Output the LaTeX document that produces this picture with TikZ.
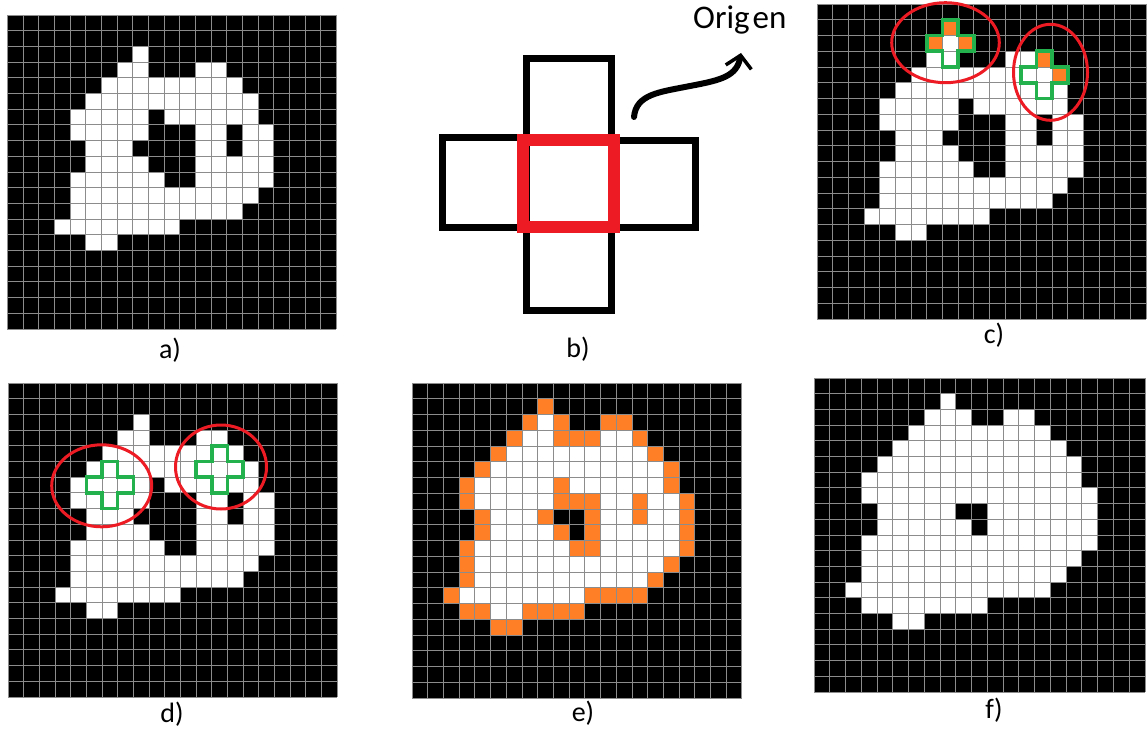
\documentclass[tikz,border=0pt]{standalone}
\usepackage{fontspec}
\setmainfont{Carlito}
\usetikzlibrary{arrows.meta}
\definecolor{pixgray}{HTML}{8C8C8C}
\definecolor{pixorange}{HTML}{FF7F27}
\definecolor{crossgreen}{HTML}{22B14C}
\definecolor{ringred}{HTML}{ED1C24}
\tikzset{
  gridline/.style={draw=pixgray,line width=0.9pt},
  crossline/.style={draw=crossgreen,line width=3.6pt,line join=miter},
  ring/.style={draw=ringred,line width=3pt},
  cellbox/.style={draw=black,line width=7pt},
  origbox/.style={draw=ringred,line width=12pt},
  tag/.style={font=\fontsize{28}{30}\selectfont,inner sep=0pt},
  squiggle/.style={line width=6pt,line cap=round,
                   -{Straight Barb[length=12pt,width=26pt,line width=3.5pt]}}
}
% white runs: row/first column/last column
\newcommand{\blobA}{2/8/8,3/7/8,3/12/13,4/6/14,5/5/15,6/4/8,6/10/15,7/4/8,7/12/13,7/15/16,
  8/5/7,8/12/13,8/15/16,9/5/8,9/12/16,10/4/9,10/12/16,11/4/15,12/4/14,13/3/10,14/5/6}
\newcommand{\blobF}{1/8/8,2/7/9,2/12/13,3/6/14,4/5/15,5/4/16,6/3/16,7/3/17,8/4/8,8/11/17,
  9/4/9,9/11/17,10/3/17,11/3/16,12/3/15,13/2/14,14/3/10,15/5/6}
\newcommand{\pixbase}{\fill[black] (0,0) rectangle (21,20);}
\newcommand{\pixlines}{%
  \foreach \i in {0,...,21} \draw[gridline] (\i,0) -- (\i,20);
  \foreach \j in {0,...,20} \draw[gridline] (0,\j) -- (21,\j);}
\newcommand{\greencross}[2]{%
  \draw[crossline] (#1,#2-1) -- ++(1,0) -- ++(0,1) -- ++(1,0) -- ++(0,1) -- ++(-1,0)
    -- ++(0,1) -- ++(-1,0) -- ++(0,-1) -- ++(-1,0) -- ++(0,-1) -- ++(1,0) -- cycle;}

\begin{document}
\begin{tikzpicture}[x=1pt,y=-1pt]
  \useasboundingbox (0,0) rectangle (1147,738);

  % a)
  \begin{scope}[shift={(7.3,15)},x=15.67pt,y=-15.7pt]
    \pixbase
    \foreach \pr/\pa/\pb in \blobA {\fill[white] (\pa,\pr) rectangle (\pb+1,\pr+1);}
    \pixlines
  \end{scope}

  % b)
  \draw[cellbox] (526,58.5) rectangle (611,140);
  \draw[cellbox] (442,137.5) rectangle (526,227.5);
  \draw[cellbox] (611,141) rectangle (695,227.5);
  \draw[cellbox] (526,227.5) rectangle (611,310.5);
  \draw[origbox] (523,140) rectangle (614,227);
  \node[tag,font=\fontsize{33}{35}\selectfont,anchor=west] (origen) at (693,20) {Orig\kern3pt en};
  \coordinate (tail) at (634,117);
  \coordinate (bend) at (690,86);
  \coordinate (tip) at (741,53);
  \draw[squiggle] (tail) .. controls (636,94) and (660,92) .. (bend)
    .. controls (722,80) and (737,76) .. (tip);

  % c)
  \begin{scope}[shift={(817,4)},x=15.67pt,y=-15.75pt]
    \pixbase
    \foreach \pr/\pa/\pb in \blobA {\fill[white] (\pa,\pr) rectangle (\pb+1,\pr+1);}
    \foreach \pa/\pr in {8/1,7/2,9/2,14/3,15/4} {\fill[pixorange] (\pa,\pr) rectangle ++(1,1);}
    \pixlines
    \greencross{8}{2}
    \greencross{14}{4}
  \end{scope}
  \draw[ring] (945.5,42.7) ellipse [x radius=53.8,y radius=40];
  \draw[ring] (1050.5,72.3) ellipse [x radius=37,y radius=48];

  % d)
  \begin{scope}[shift={(8,383)},x=15.67pt,y=-15.7pt]
    \pixbase
    \foreach \pr/\pa/\pb in \blobA {\fill[white] (\pa,\pr) rectangle (\pb+1,\pr+1);}
    \pixlines
    \greencross{6}{6}
    \greencross{13}{5}
  \end{scope}
  \draw[ring] (101.7,485.8) ellipse [x radius=50,y radius=41];
  \draw[ring] (221,467) ellipse [x radius=45.5,y radius=42];

  % e)
  \begin{scope}[shift={(412,383)},x=15.71pt,y=-15.75pt]
    \pixbase
    \foreach \pr/\pa/\pb in \blobF {\fill[pixorange] (\pa,\pr) rectangle (\pb+1,\pr+1);}
    \foreach \pr/\pa/\pb in \blobA {\fill[white] (\pa,\pr) rectangle (\pb+1,\pr+1);}
    \pixlines
  \end{scope}

  % f)
  \begin{scope}[shift={(814,378)},x=15.76pt,y=-15.7pt]
    \pixbase
    \foreach \pr/\pa/\pb in \blobF {\fill[white] (\pa,\pr) rectangle (\pb+1,\pr+1);}
    \pixlines
  \end{scope}

  \node[tag] (capa) at (170,350) {a)};
  \node[tag] (capb) at (578,349) {b)};
  \node[tag] (capc) at (994,335) {c)};
  \node[tag] (capd) at (172,714) {d)};
  \node[tag] (cape) at (583,713) {e)};
  \node[tag] (capf) at (994,710) {f)};
\end{tikzpicture}
\end{document}
